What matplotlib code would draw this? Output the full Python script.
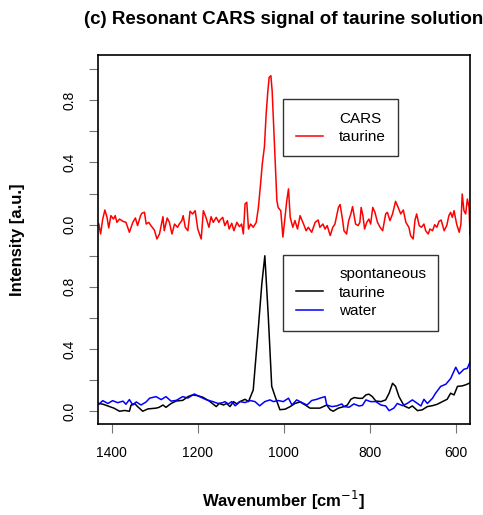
import numpy as np
import matplotlib.pyplot as plt
from matplotlib.lines import Line2D

plt.rcParams['font.family'] = ['Liberation Sans', 'DejaVu Sans']

# CARS spectrum of taurine (top trace, shifted up by OFFSET)
cars_wn = [1430, 1426, 1421, 1416, 1411, 1407, 1402, 1396, 1392, 1388, 1382, 1374, 1367, 1359, 1351,
           1345, 1340, 1333, 1330, 1324, 1320, 1314, 1309, 1301, 1295, 1289, 1281, 1278, 1271, 1266,
           1260, 1254, 1247, 1243, 1237, 1234, 1229, 1223, 1218, 1212, 1206, 1200, 1192, 1187, 1181,
           1174, 1169, 1164, 1157, 1151, 1148, 1142, 1137, 1131, 1127, 1121, 1116, 1109, 1103, 1098,
           1094, 1090, 1086, 1082, 1077, 1071, 1064, 1059, 1054, 1050, 1045, 1041, 1037, 1034, 1030,
           1027, 1024, 1020, 1016, 1013, 1007, 1002, 997, 993, 989, 985, 979, 974, 968, 962,
           954, 948, 943, 935, 927, 920, 916, 909, 904, 899, 892, 886, 881, 873, 869,
           863, 860, 854, 849, 844, 840, 837, 833, 827, 823, 820, 816, 812, 807, 802,
           798, 793, 788, 782, 776, 770, 763, 759, 753, 747, 740, 734, 728, 722, 716,
           709, 705, 699, 695, 691, 685, 680, 674, 670, 664, 660, 654, 649, 644, 639,
           634, 627, 621, 616, 612, 608, 604, 598, 592, 588, 585, 581, 577, 573, 569, 567]
cars_taurine = [0.004, -0.06, 0.036, 0.094, 0.047, -0.021, 0.058, 0.036, 0.058, 0.015, 0.036, 0.021, 0.015, -0.049, 0.015,
                0.043, -0.006, 0.058, 0.073, 0.08, 0.004, 0.015, -0.006, -0.034, -0.092, -0.06, 0.051, -0.039, 0.043, 0.015,
                -0.06, 0.004, -0.017, 0.004, 0.026, 0.058, -0.017, -0.039, 0.086, 0.069, 0.09, -0.028, -0.092, 0.09, 0.047,
                -0.017, 0.051, 0.015, 0.047, 0.015, 0.03, 0.047, -0.006, 0.026, -0.028, 0.009, -0.039, 0.015, -0.013, 0.004,
                -0.06, 0.133, 0.144, -0.028, 0.004, -0.017, 0.015, 0.11, 0.26, 0.39, 0.5, 0.71, 0.86, 0.947, 0.958,
                0.86, 0.67, 0.41, 0.154, 0.11, 0.09, -0.08, 0.047, 0.154, 0.23, 0.047, -0.017, 0.026, -0.028, 0.058,
                0.004, -0.039, -0.017, -0.049, 0.015, 0.03, -0.017, 0.004, -0.028, -0.006, -0.07, -0.017, 0.004, 0.11, 0.13,
                0.026, -0.039, -0.06, 0.026, 0.069, 0.116, 0.069, 0.004, -0.006, 0.015, 0.111, 0.058, -0.028, 0.015, 0.036,
                0.004, 0.111, 0.079, 0.015, -0.017, -0.039, 0.069, 0.079, 0.026, 0.069, 0.15, 0.111, 0.069, 0.094, 0.015,
                -0.017, -0.071, -0.092, 0.026, 0.069, -0.006, -0.017, 0.004, -0.039, -0.06, -0.028, -0.039, 0.0, -0.017, 0.021,
                0.03, -0.039, -0.006, 0.058, 0.079, 0.047, 0.09, 0.004, -0.049, 0.004, 0.197, 0.09, 0.069, 0.165, 0.111, -0.06]

# spontaneous Raman, taurine
spon_wn = [1430, 1420, 1410, 1405, 1395, 1382, 1370, 1359, 1355, 1347, 1340, 1328, 1316, 1297, 1290,
           1281, 1274, 1262, 1250, 1235, 1222, 1212, 1200, 1188, 1173, 1157, 1150, 1140, 1133, 1125,
           1117, 1109, 1102, 1090, 1082, 1071, 1059, 1051, 1044, 1036, 1028, 1020, 1009, 997, 985,
           974, 962, 950, 939, 916, 900, 892, 885, 873, 860, 852, 844, 836, 825, 817,
           809, 802, 794, 786, 774, 763, 755, 747, 740, 732, 720, 709, 701, 689, 678,
           666, 654, 643, 631, 620, 612, 604, 596, 585, 577, 565]
spon_taurine = [0.05, 0.045, 0.035, 0.03, 0.02, 0.0, 0.005, 0.0, 0.04, 0.05, 0.03, 0.0, 0.015, 0.02, 0.025,
                0.04, 0.025, 0.05, 0.066, 0.07, 0.095, 0.105, 0.1, 0.09, 0.065, 0.03, 0.05, 0.04, 0.05, 0.03,
                0.062, 0.047, 0.062, 0.077, 0.062, 0.137, 0.54, 0.82, 1.0, 0.61, 0.16, 0.094, 0.01, 0.013, 0.03,
                0.05, 0.06, 0.04, 0.02, 0.02, 0.04, 0.01, 0.0, 0.02, 0.03, 0.04, 0.077, 0.088, 0.083, 0.083,
                0.105, 0.11, 0.094, 0.066, 0.062, 0.073, 0.116, 0.18, 0.16, 0.094, 0.034, 0.02, 0.034, 0.004, 0.009,
                0.03, 0.036, 0.045, 0.062, 0.077, 0.116, 0.105, 0.16, 0.163, 0.17, 0.184]

# spontaneous Raman, water
water_wn = [1430, 1421, 1409, 1398, 1386, 1374, 1367, 1359, 1351, 1343, 1332, 1320, 1312, 1297, 1285,
            1274, 1262, 1250, 1235, 1223, 1208, 1196, 1181, 1165, 1153, 1142, 1137, 1129, 1121, 1113,
            1102, 1090, 1078, 1067, 1056, 1044, 1032, 1024, 1013, 1001, 989, 981, 970, 958, 946,
            935, 923, 916, 904, 900, 888, 877, 865, 860, 848, 837, 825, 817, 809, 798,
            786, 774, 763, 755, 744, 736, 724, 713, 701, 689, 681, 674, 666, 654, 647,
            635, 623, 612, 600, 592, 581, 573, 565]
water = [0.045, 0.068, 0.05, 0.068, 0.055, 0.065, 0.045, 0.075, 0.04, 0.06, 0.04, 0.06, 0.084, 0.094, 0.075,
         0.094, 0.065, 0.07, 0.094, 0.085, 0.111, 0.094, 0.075, 0.062, 0.05, 0.055, 0.062, 0.047, 0.062, 0.035,
         0.062, 0.056, 0.069, 0.062, 0.035, 0.062, 0.073, 0.062, 0.069, 0.062, 0.084, 0.04, 0.073, 0.056, 0.04,
         0.069, 0.077, 0.084, 0.094, 0.04, 0.03, 0.034, 0.047, 0.03, 0.026, 0.047, 0.034, 0.038, 0.073, 0.062,
         0.062, 0.04, 0.034, 0.004, 0.02, 0.05, 0.036, 0.05, 0.073, 0.05, 0.034, 0.077, 0.05, 0.084, 0.116,
         0.16, 0.174, 0.21, 0.283, 0.24, 0.27, 0.276, 0.33]

OFFSET = 1.2
x_ticks = [1400, 1200, 1000, 800, 600]
y_ticks = [0.0, 0.2, 0.4, 0.6, 0.8, 1.0]
y_labels = ['0.0', '', '0.4', '', '0.8', '']

fig = plt.figure(figsize=(4.83, 5.15), dpi=100)
ax = fig.add_axes([0.2029, 0.1761, 0.7692, 0.7171])

ax.plot(cars_wn, np.array(cars_taurine) + OFFSET, color='red', lw=1.1)
ax.plot(spon_wn, spon_taurine, color='black', lw=1.1)
ax.plot(water_wn, water, color='blue', lw=1.1)

ax.set_xlim(1432, 568)
ax.set_ylim(-0.084, 2.291)

ax.set_xticks(x_ticks)
ax.set_xticklabels([str(t) for t in x_ticks])
ax.set_yticks(y_ticks + [t + OFFSET for t in y_ticks])
ax.set_yticklabels(y_labels + y_labels)
ax.tick_params(axis='both', direction='out', length=6.5, width=0.8, color='0.45',
               labelsize=10, pad=9)
ax.tick_params(axis='y', labelrotation=90)
for lab in ax.get_yticklabels():
    lab.set_va('center')
for sp in ax.spines.values():
    sp.set_linewidth(1.2)

leg_kw = dict(loc='upper left', fontsize=11, frameon=True, fancybox=False, edgecolor='black',
              borderpad=0.8, borderaxespad=0.0, handlelength=1.8, handletextpad=1.05,
              labelspacing=0.3)
blank = Line2D([], [], color='none')
leg1 = ax.legend([blank, Line2D([], [], color='red', lw=1.1)], ['CARS', 'taurine'],
                 bbox_to_anchor=(0.499, 0.880), **leg_kw)
leg1.get_frame().set_linewidth(1.0)
ax.add_artist(leg1)
leg2 = ax.legend([blank, Line2D([], [], color='black', lw=1.1), Line2D([], [], color='blue', lw=1.1)],
                 ['spontaneous', 'taurine', 'water'],
                 bbox_to_anchor=(0.499, 0.4584), **leg_kw)
leg2.get_frame().set_linewidth(1.0)

fig.text(0.5875, 1 - 20 / 515, '(c) Resonant CARS signal of taurine solution',
         ha='center', va='center', fontsize=13.5, fontweight='bold')
fig.text(0.5875, 1 - 500 / 515, r'Wavenumber [cm$^{-1}$]',
         ha='center', va='center', fontsize=12, fontweight='bold')
fig.text(18 / 483, 1 - 240 / 515, 'Intensity [a.u.]', rotation=90,
         ha='center', va='center', fontsize=12, fontweight='bold')

fig.savefig('out.png', dpi=100)
